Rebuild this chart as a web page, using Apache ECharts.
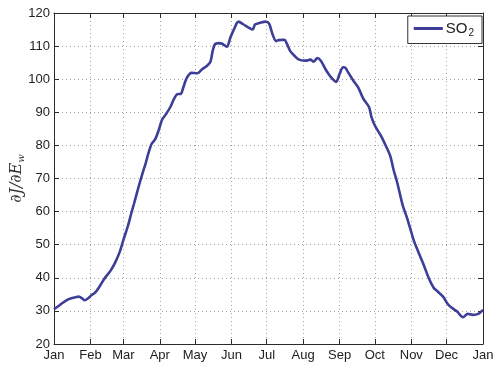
<!DOCTYPE html>
<html>
<head>
<meta charset="utf-8">
<script src="https://cdn.jsdelivr.net/npm/echarts@6/dist/echarts.min.js"></script>
<style>
  html, body { margin: 0; padding: 0; background: #fff; }
  #chart { width: 495px; height: 367px; }
</style>
</head>
<body>
<div id="chart"></div>
<script>
// Day of year (0 = 1 Jan) and the sensitivity value on that day
const days = [0,5,12,19,21,24,26,29,32,35,39,43,48,52,56,59,63,66,68,72,75,78,80,83,86,89,92,95,99,102,105,108,110,113,117,122,126,130,133,135,137,140,143,147,150,153,157,161,166,169,171,176,180,183,186,189,191,196,198,201,204,208,214,218,221,224,227,231,235,240,243,246,248,250,255,259,263,268,270,273,278,282,286,289,292,295,297,300,303,306,310,314,319,323,326,331,335,339,343,348,352,356,361,365];
const so2 = [30.5,31.8,33.5,34.2,34.3,33.8,33.2,33.8,34.8,35.5,37.5,39.8,42.1,44.6,47.9,51.4,55.8,59.8,62.3,67.5,71.2,74.6,77.2,80.4,81.8,84.5,87.8,89.3,91.6,94,95.5,95.6,97.5,100.4,101.9,101.8,103,104,105.2,108.5,110.6,110.9,110.7,109.8,112.5,115,117.4,116.6,115.5,115,116.5,117.1,117.4,116.8,113.5,111.5,111.8,111.9,110.8,108.5,107.3,106,105.6,105.9,105.3,106.4,105.6,103,100.9,99.2,101.6,103.6,103.4,102.2,99.4,97.4,94.2,91.6,88.7,86,83,80.1,76.9,72.5,68.8,64.3,61.5,58.5,55,51.4,47.8,44.4,39.8,37,36,34.3,32.1,30.8,29.8,28.1,29.1,28.8,29.1,30.3];

// Month boundaries (day index) and their tick labels
const monthStarts = [0,31,59,90,120,151,181,212,243,273,304,334,365];
const monthLabels = ['Jan','Feb','Mar','Apr','May','Jun','Jul','Aug','Sep','Oct','Nov','Dec','Jan'];

const yMin = 20, yMax = 120, yStep = 10;

const dayCats = [];
for (let d = 0; d <= 365; d++) dayCats.push(String(d));
const isMonthStart = (i) => monthStarts.indexOf(i) >= 0;
const labelOf = (i) => monthLabels[monthStarts.indexOf(i)];

const font = 'Liberation Sans, Arial, Helvetica, sans-serif';
const serif = 'DejaVu Serif, Liberation Serif, serif';
const axisColor = '#2b2b2b';
const gridColor = '#a4a4a4';
const lineColor = '#3c3e98';

const chart = echarts.init(document.getElementById('chart'), null, { renderer: 'canvas' });

const xBase = {
  type: 'category',
  data: dayCats,
  boundaryGap: false,
  axisLine: { show: true, onZero: false, lineStyle: { color: axisColor, width: 1 } },
  axisTick: { show: true, inside: true, length: 5, interval: (i) => isMonthStart(i), lineStyle: { color: axisColor } },
};
const yBase = {
  type: 'value',
  min: yMin, max: yMax, interval: yStep,
  axisLine: { show: true, lineStyle: { color: axisColor, width: 1 } },
  axisTick: { show: true, inside: true, length: 5, lineStyle: { color: axisColor } },
};

chart.setOption({
  animation: false,
  backgroundColor: '#fff',
  grid: { left: 54, right: 12, top: 13, bottom: 23, containLabel: false, outerBoundsMode: 'none' },
  legend: {
    right: 13, top: 16,
    orient: 'horizontal',
    backgroundColor: '#fff',
    borderColor: '#333', borderWidth: 1, borderRadius: 0,
    padding: [5, 8, 5, 6],
    itemWidth: 29, itemHeight: 3, itemGap: 2,
    icon: 'rect',
    formatter: () => '{a|SO}{b|2}',
    textStyle: {
      fontFamily: font, color: '#222', padding: [0, 0, 0, -2],
      rich: {
        a: { fontSize: 15, fontFamily: font, color: '#222', lineHeight: 16 },
        b: { fontSize: 10, fontFamily: font, color: '#222', padding: [10, 0, 0, 1] }
      }
    },
    data: ['SO2']
  },
  xAxis: [
    Object.assign({}, xBase, {
      position: 'bottom',
      axisLabel: {
        show: true, interval: (i) => isMonthStart(i),
        formatter: (v, i) => labelOf(i) || '',
        color: '#222', fontSize: 13, fontFamily: font, margin: 5
      },
      splitLine: { show: true, interval: (i) => isMonthStart(i) && i !== 0 && i !== 365,
        lineStyle: { color: gridColor, type: [1, 3], width: 1 } }
    }),
    Object.assign({}, xBase, {
      position: 'top',
      axisLabel: { show: false },
      splitLine: { show: false }
    })
  ],
  yAxis: [
    Object.assign({}, yBase, {
      position: 'left',
      name: '{i|∂J/∂E}{s|w}',
      nameLocation: 'middle',
      nameGap: 28,
      nameMoveOverlap: false,
      nameTextStyle: {
        rich: {
          i: { fontFamily: serif, fontStyle: 'italic', fontSize: 16, color: '#333' },
          s: { fontFamily: serif, fontStyle: 'italic', fontSize: 10, color: '#333', padding: [8, 0, 0, 0] }
        }
      },
      axisLabel: { color: '#222', fontSize: 13, fontFamily: font, margin: 4 },
      splitLine: { show: true, lineStyle: { color: gridColor, type: [1, 3], width: 1 } }
    }),
    Object.assign({}, yBase, {
      position: 'right',
      axisLabel: { show: false },
      splitLine: { show: false }
    })
  ],
  series: [{
    name: 'SO2',
    type: 'line',
    xAxisIndex: 0, yAxisIndex: 0,
    data: days.map((d, k) => [d, so2[k]]),
    smooth: 0.3,
    showSymbol: false,
    symbol: 'none',
    lineStyle: { color: lineColor, width: 2.6 },
    itemStyle: { color: lineColor }
  }]
});
</script>
</body>
</html>
